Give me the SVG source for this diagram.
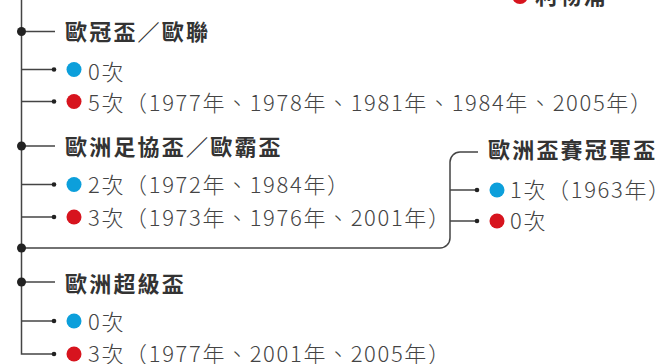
<svg xmlns="http://www.w3.org/2000/svg" width="660" height="364" viewBox="0 0 660 364">
<style>
.ttl{font-family:"Noto Sans CJK TC","Noto Sans CJK SC",sans-serif;font-weight:700;font-size:22px;letter-spacing:2.2px;fill:#333}
.txt{font-family:"Noto Sans CJK TC","Noto Sans CJK SC",sans-serif;font-weight:300;font-size:22px;letter-spacing:1.65px;fill:#444}
.ln{fill:none;stroke:#444;stroke-width:1.5}
.big{fill:#222}
.sm{fill:#222}
.blue{fill:#0C9FDB}
.red{fill:#D7141E}
</style>
<rect width="660" height="364" fill="#fff"/>
<g id="connectors">
<path class="ln" d="M21.5 0 V354 H54"/>
<path class="ln" d="M21.5 31.5 H55"/>
<path class="ln" d="M21.5 69.5 H54"/>
<path class="ln" d="M21.5 101.5 H54"/>
<path class="ln" d="M21.5 146 H55"/>
<path class="ln" d="M21.5 184.5 H54"/>
<path class="ln" d="M21.5 217 H54"/>
<path class="ln" d="M21.5 282 H55"/>
<path class="ln" d="M21.5 321 H54"/>
<path class="ln" d="M21.5 248 H440 A10 10 0 0 0 450 238 V162 A10 10 0 0 1 460 152 H478"/>
<path class="ln" d="M450 190 H477"/>
<path class="ln" d="M450 221 H477"/>
<circle class="big" cx="21.5" cy="248" r="4.5"/>
<circle class="sm" cx="54" cy="69.5" r="2.3"/>
<circle class="sm" cx="54" cy="101.5" r="2.3"/>
<circle class="sm" cx="54" cy="184.5" r="2.3"/>
<circle class="sm" cx="54" cy="217" r="2.3"/>
<circle class="sm" cx="54" cy="321" r="2.3"/>
<circle class="sm" cx="54" cy="354" r="2.3"/>
<circle class="sm" cx="477" cy="190" r="2.3"/>
<circle class="sm" cx="477" cy="221" r="2.3"/>
</g>
<g id="liverpool">
<circle class="red" cx="520" cy="-4" r="8"/>
<text class="ttl" x="535" y="4">利物浦</text>
</g>
<g id="ucl">
<circle class="big" cx="21.5" cy="31.5" r="4.5"/>
<text class="ttl" x="65" y="40">歐冠盃／歐聯</text>
</g>
<g id="ucl-blue">
<circle class="blue" cx="74" cy="69.5" r="7.5"/>
<text class="txt" x="88" y="79.5">0次</text>
</g>
<g id="ucl-red">
<circle class="red" cx="74" cy="101.5" r="7.5"/>
<text class="txt" x="88" y="111">5次（1977年、1978年、1981年、1984年、2005年）</text>
</g>
<g id="uefa">
<circle class="big" cx="21.5" cy="146" r="4.5"/>
<text class="ttl" x="65" y="155">歐洲足協盃／歐霸盃</text>
</g>
<g id="uefa-blue">
<circle class="blue" cx="74" cy="184.5" r="7.5"/>
<text class="txt" x="88" y="193">2次（1972年、1984年）</text>
</g>
<g id="uefa-red">
<circle class="red" cx="74" cy="217" r="7.5"/>
<text class="txt" x="88" y="225.5">3次（1973年、1976年、2001年）</text>
</g>
<g id="cwc">
<text class="ttl" x="488" y="158">歐洲盃賽冠軍盃</text>
</g>
<g id="cwc-blue">
<circle class="blue" cx="497" cy="190" r="7.5"/>
<text class="txt" x="510" y="197.5">1次（1963年）</text>
</g>
<g id="cwc-red">
<circle class="red" cx="497" cy="221" r="7.5"/>
<text class="txt" x="510" y="228.5">0次</text>
</g>
<g id="super">
<circle class="big" cx="21.5" cy="282" r="4.5"/>
<text class="ttl" x="65" y="292">歐洲超級盃</text>
</g>
<g id="super-blue">
<circle class="blue" cx="74" cy="321" r="7.5"/>
<text class="txt" x="88" y="330">0次</text>
</g>
<g id="super-red">
<circle class="red" cx="74" cy="354" r="7.5"/>
<text class="txt" x="88" y="362">3次（1977年、2001年、2005年）</text>
</g>
</svg>
